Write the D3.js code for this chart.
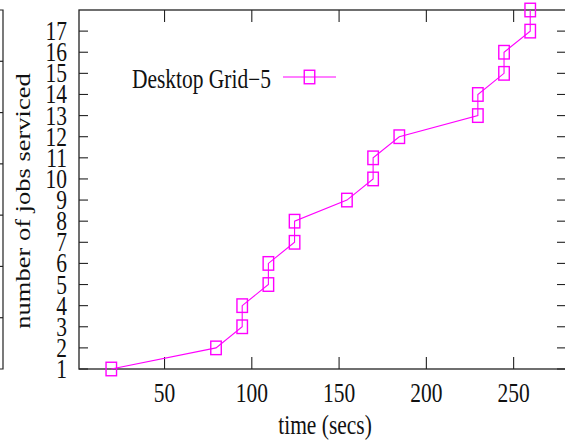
<!DOCTYPE html>
<html>
<head>
<meta charset="utf-8">
<script src="https://cdn.jsdelivr.net/npm/d3@7"></script>
<style>
  html, body { margin: 0; padding: 0; background: #fff; }
  svg { display: block; overflow: hidden; }
  text { font-family: "Liberation Serif", "Times New Roman", serif; fill: #111; }
</style>
</head>
<body>
<script>
// Completion time (secs) of each serviced job and the running job count
const times = [19.5, 79.5, 94.5, 94.5, 109.5, 109.5, 124.5, 124.5, 154.5,
               169.5, 169.5, 184.5, 229.5, 229.5, 244.5, 244.5, 259.5, 259.5];
const jobsServiced = [1, 2, 3, 4, 5, 6, 7, 8, 9, 10, 11, 12, 13, 14, 15, 16, 17, 18];
const xTickValues = [50, 100, 150, 200, 250];
const yTickValues = [1, 2, 3, 4, 5, 6, 7, 8, 9, 10, 11, 12, 13, 14, 15, 16, 17];
const seriesName = "Desktop Grid\u22125";
const xTitle = "time (secs)";
const yTitle = "number of jobs serviced";
// right-hand frame of the neighbouring panel, with its mirrored ticks
const neighbourTicks = [1, 2, 3, 4, 5, 6];

(function draw() {
  const W = 565, H = 446;
  const pL = 79, pR = 566, pT = 10, pB = 369;
  const color = "#ff00ff";
  const fontSize = 26.5, squeeze = 0.81;

  const svg = d3.select("body").append("svg").attr("width", W).attr("height", H);

  const x = d3.scaleLinear().domain([1, 280]).range([pL, pR]);
  const y = d3.scaleLinear().domain([1, 18]).range([pB, pT]);

  // neighbouring panel fragment
  const yn = d3.scaleLinear().domain([0, 7]).range([pB, pT]);
  const nb = svg.append("g").attr("stroke", "#222").attr("stroke-width", 1.2).attr("fill", "none");
  nb.append("path").attr("d", `M0,${pT}H3V${pB}H0`);
  nb.selectAll("line").data(neighbourTicks).join("line")
    .attr("x1", 0).attr("x2", 3).attr("y1", d => yn(d)).attr("y2", d => yn(d));

  // frame
  svg.append("rect").attr("x", pL).attr("y", pT)
    .attr("width", pR - pL).attr("height", pB - pT)
    .attr("fill", "none").attr("stroke", "#222").attr("stroke-width", 1.3);

  // ticks (mirrored on all sides)
  const tk = svg.append("g").attr("stroke", "#222").attr("stroke-width", 1.1);
  tk.append("g").selectAll("line").data(yTickValues).join("line")
    .attr("x1", pL).attr("x2", pL + 9).attr("y1", d => y(d)).attr("y2", d => y(d));
  tk.append("g").selectAll("line").data(yTickValues).join("line")
    .attr("x1", pR - 9).attr("x2", pR).attr("y1", d => y(d)).attr("y2", d => y(d));
  tk.append("g").selectAll("line").data(xTickValues).join("line")
    .attr("x1", d => x(d)).attr("x2", d => x(d)).attr("y1", pB).attr("y2", pB - 12);
  tk.append("g").selectAll("line").data(xTickValues).join("line")
    .attr("x1", d => x(d)).attr("x2", d => x(d)).attr("y1", pT).attr("y2", pT + 12);

  // tick labels
  svg.append("g").selectAll("text").data(yTickValues).join("text")
    .attr("transform", d => `translate(67,${y(d)}) scale(${squeeze},1)`)
    .attr("text-anchor", "end").attr("dy", "0.34em")
    .style("font-size", fontSize + "px")
    .text(d => d);
  svg.append("g").selectAll("text").data(xTickValues).join("text")
    .attr("transform", d => `translate(${x(d)},402) scale(${squeeze},1)`)
    .attr("text-anchor", "middle")
    .style("font-size", fontSize + "px")
    .text(d => d);

  // axis titles
  svg.append("text")
    .attr("transform", `translate(325,434) scale(${squeeze},1)`)
    .attr("text-anchor", "middle")
    .style("font-size", fontSize + "px")
    .text(xTitle);
  svg.append("text")
    .attr("transform", `translate(30,201) scale(${squeeze},1) rotate(-90)`)
    .attr("text-anchor", "middle")
    .style("font-size", fontSize + "px")
    .text(yTitle);

  // series line and square markers
  const pts = times.map((t, i) => [t, jobsServiced[i]]);
  const line = d3.line().x(d => x(d[0])).y(d => y(d[1]));
  svg.append("path").datum(pts)
    .attr("d", line).attr("fill", "none").attr("stroke", color).attr("stroke-width", 1.1);

  const mw = 10.5, mh = 13.5;
  svg.append("g").selectAll("rect").data(pts).join("rect")
    .attr("x", d => x(d[0]) - mw / 2).attr("y", d => y(d[1]) - mh / 2)
    .attr("width", mw).attr("height", mh)
    .attr("fill", "none").attr("stroke", color).attr("stroke-width", 1.4);

  // key
  svg.append("text")
    .attr("transform", `translate(271,88) scale(${squeeze},1)`)
    .attr("text-anchor", "end")
    .style("font-size", fontSize + "px")
    .text(seriesName);
  svg.append("line").attr("x1", 283).attr("x2", 336).attr("y1", 77).attr("y2", 77)
    .attr("stroke", color).attr("stroke-width", 1.1);
  svg.append("rect").attr("x", 309.5 - mw / 2).attr("y", 77 - mh / 2)
    .attr("width", mw).attr("height", mh)
    .attr("fill", "none").attr("stroke", color).attr("stroke-width", 1.4);
})();
</script>
</body>
</html>
